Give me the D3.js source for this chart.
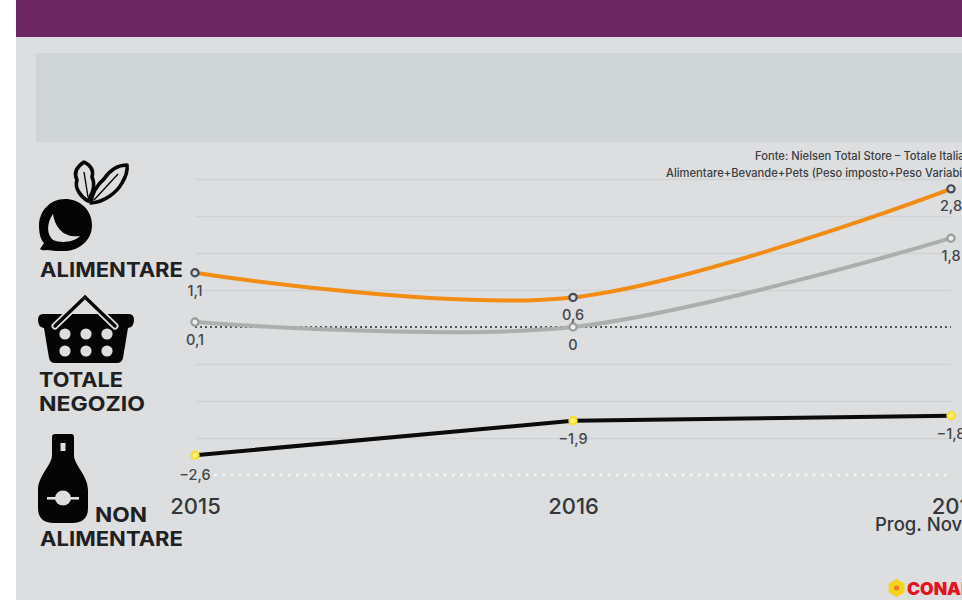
<!DOCTYPE html>
<html>
<head>
<meta charset="utf-8">
<script src="https://cdnjs.cloudflare.com/ajax/libs/d3/7.8.5/d3.min.js"></script>
<style>
html, body { margin: 0; padding: 0; background: #fff; overflow: hidden; }
svg { display: block; }
text { font-family: "Inter", "Open Sans", sans-serif; }
</style>
</head>
<body>
<svg id="chart" width="962" height="600"></svg>
<script>
// Sales trend by category, percentage change year on year
const years = ["2015", "2016", "2017"];
const alimentare = [1.1, 0.6, 2.8];
const totaleNegozio = [0.1, 0, 1.8];
const nonAlimentare = [-2.6, -1.9, -1.8];
const gridValues = [3, 2.25, 1.5, 0.75, -0.75, -1.5, -2.25];
const sourceLines = [
  "Fonte: Nielsen Total Store – Totale Italia",
  "Alimentare+Bevande+Pets (Peso imposto+Peso Variabile)"
];

const svg = d3.select("#chart");

// Page furniture
svg.append("rect").attr("x", 16).attr("y", 0).attr("width", 946).attr("height", 600).attr("fill", "#dcdee0");
svg.append("rect").attr("x", 16).attr("y", 0).attr("width", 946).attr("height", 37).attr("fill", "#6b2760");
svg.append("rect").attr("x", 36).attr("y", 53).attr("width", 926).attr("height", 89).attr("fill", "#d0d5d6");

const x = d3.scalePoint().domain(years).range([195, 951]);
const y = d3.scaleLinear().domain([-3, 3]).range([475, 179]);

// Horizontal grid
const grid = svg.append("g").attr("transform", "translate(195,0)")
  .call(d3.axisLeft(y).tickValues(gridValues).tickSize(-756).tickFormat(""));
grid.select(".domain").remove();
grid.selectAll("line").attr("stroke", "#d0d2d3").attr("stroke-width", 1.6);

// Zero line and lower bound are dotted
svg.append("line").attr("x1", 195).attr("x2", 951).attr("y1", y(0)).attr("y2", y(0))
  .attr("stroke", "#54585c").attr("stroke-width", 2.2).attr("stroke-dasharray", "2 3");
svg.append("line").attr("x1", 214).attr("x2", 947).attr("y1", y(-3)).attr("y2", y(-3))
  .attr("stroke", "#f4f5f5").attr("stroke-width", 2.6).attr("stroke-dasharray", "3 5.2");

// Year labels
const xAxis = svg.append("g").attr("transform", "translate(0,496)")
  .call(d3.axisBottom(x).tickSize(0).tickPadding(0));
xAxis.select(".domain").remove();
xAxis.selectAll("text")
  .attr("y", 0).attr("dy", "0.8em")
  .attr("dx", d => d === "2017" ? 5 : 0)
  .style("font-family", '"Inter", sans-serif')
  .style("font-size", "22px").style("font-weight", 500).attr("fill", "#34373a");

svg.append("text").attr("x", 875).attr("y", 531)
  .attr("font-size", "18.5px").attr("font-weight", 500).attr("fill", "#34373a")
  .text("Prog. Novembre");

// Source note
svg.selectAll(".source").data(sourceLines).join("text").attr("class", "source")
  .attr("x", (d, i) => [755, 666][i]).attr("y", (d, i) => [160, 177][i])
  .attr("font-size", "11.2px").attr("font-weight", 500).attr("fill", "#3c3f42")
  .text(d => d);

// Series lines
const smooth = d3.line().x((d, i) => x(years[i])).y(d => y(d)).curve(d3.curveCatmullRom.alpha(0));
const straight = d3.line().x((d, i) => x(years[i])).y(d => y(d));

const series = [
  { values: totaleNegozio, gen: smooth, color: "#adafaf", fill: "#eceded", ring: "#9a9c9c", labelGap: i => 23 },
  { values: alimentare, gen: smooth, color: "#f28c13", fill: "#d5d7d9", ring: "#454a55", labelGap: i => i === 2 ? 22 : 23 },
  { values: nonAlimentare, gen: straight, color: "#0b0b0b", fill: "#fff27a", ring: "#f7df2a", labelGap: i => i === 0 ? 25 : 23 }
];

const fmt = v => (v < 0 ? "−" : "") + String(Math.abs(v)).replace(".", ",");

series.forEach(s => {
  svg.append("path").attr("d", s.gen(s.values)).attr("fill", "none")
    .attr("stroke", s.color).attr("stroke-width", 4);
  svg.selectAll(null).data(s.values).join("circle")
    .attr("cx", (d, i) => x(years[i])).attr("cy", d => y(d)).attr("r", 3.6)
    .attr("fill", s.fill).attr("stroke", s.ring).attr("stroke-width", 2.2);
  svg.selectAll(null).data(s.values).join("text")
    .attr("x", (d, i) => x(years[i])).attr("y", (d, i) => y(d) + s.labelGap(i))
    .attr("text-anchor", "middle").attr("font-size", "14.5px").attr("font-weight", 500)
    .attr("fill", "#43464a").text(fmt);
});

// Category labels
const catLabels = [
  ["ALIMENTARE", 40, 277, 143],
  ["TOTALE", 39, 387, 84],
  ["NEGOZIO", 39, 411, 106],
  ["NON", 95, 522, 52],
  ["ALIMENTARE", 40, 546, 143]
];
svg.selectAll(".cat").data(catLabels).join("text").attr("class", "cat")
  .attr("x", d => d[1]).attr("y", d => d[2])
  .attr("textLength", d => d[3]).attr("lengthAdjust", "spacingAndGlyphs")
  .attr("font-size", "20px").attr("font-weight", 700).attr("fill", "#1f2021")
  .text(d => d[0]);

// Beetroot icon
const beet = svg.append("g");
beet.append("path").attr("fill", "#050505")
  .attr("d", "M92 225 C92 209 79 199 65 199 C50 199 39 211 39 226 C39 234 41 240 44 243 L40 249 Q42 251 47 250 C52 251 60 251 66 251 C80 250 92 240 92 225 Z");
beet.append("path").attr("fill", "#dcdee0")
  .attr("d", "M53 214 C46 224 47 235 53 240 C60 243 73 243 80 236 C68 238 56 232 53 214 Z");
const leafPaths = [
  "M88 201 C81 197 74 188 77 180 C73 172 78 166 84 162 C90 165 94 170 92 177 C96 186 92 194 88 201 Z",
  "M91 203 C92 193 98 184 104 179 C110 170 118 165 127 165 C128 172 125 178 122 183 C117 192 105 202 91 203 Z"
];
beet.selectAll(null).data(leafPaths).join("path").attr("d", d => d)
  .attr("fill", "#dcdee0").attr("stroke", "#080808").attr("stroke-width", 3.6).attr("stroke-linejoin", "round");
beet.append("path").attr("d", "M88 197 L84 172 M94 200 L118 174").attr("stroke", "#080808")
  .attr("stroke-width", 1.4).attr("fill", "none");

// Shopping basket icon
const basket = svg.append("g");
basket.append("path").attr("fill", "#050505")
  .attr("d", "M43 314 H129 Q134 314 134 320 Q134 327 128 328 L123 358 Q122 363 117 363 H55 Q50 363 49 358 L44 328 Q38 327 38 320 Q38 314 43 314 Z");
basket.append("path").attr("d", "M55 326 L85 297 L115 326").attr("fill", "none")
  .attr("stroke", "#dcdee0").attr("stroke-width", 7).attr("stroke-linecap", "round");
basket.append("path").attr("d", "M55 326 L85 297 L115 326").attr("fill", "none")
  .attr("stroke", "#050505").attr("stroke-width", 3.4).attr("stroke-linecap", "round");
basket.selectAll(null).data(d3.cross([65, 86, 107], [334, 351])).join("circle")
  .attr("cx", d => d[0]).attr("cy", d => d[1]).attr("r", 5.6).attr("fill", "#dcdee0");

// Bottle icon
const bottle = svg.append("g");
bottle.append("path").attr("fill", "#050505")
  .attr("d", "M55 434 H71 Q74 434 74 437 V456 C75 466 88 476 88 490 V508 Q88 523 72 523 H54 Q38 523 38 508 V490 C38 476 51 466 52 456 V437 Q52 434 55 434 Z");
bottle.append("rect").attr("x", 60.5).attr("y", 443).attr("width", 5).attr("height", 8).attr("fill", "#dcdee0");
bottle.append("rect").attr("x", 47).attr("y", 497).attr("width", 32).attr("height", 2.6).attr("fill", "#dcdee0");
bottle.append("ellipse").attr("cx", 63).attr("cy", 498).attr("rx", 8).attr("ry", 7.5).attr("fill", "#dcdee0");

// Retailer mark
svg.append("path").attr("fill", "#f6d21b").attr("stroke", "#f6d21b").attr("stroke-width", 2).attr("stroke-linejoin", "round")
  .attr("d", d3.line().curve(d3.curveLinearClosed)(
    d3.range(6).map(i => [896.5 + 8 * Math.sin(i * Math.PI / 3), 588 - 8 * Math.cos(i * Math.PI / 3)])));
svg.append("circle").attr("cx", 896.5).attr("cy", 588).attr("r", 2.6).attr("fill", "#ec7c1f");
svg.append("text").attr("x", 907).attr("y", 594.5).attr("font-size", "17.5px").attr("font-weight", 900)
  .attr("fill", "#e3141f").text("CONAD");
</script>
</body>
</html>
